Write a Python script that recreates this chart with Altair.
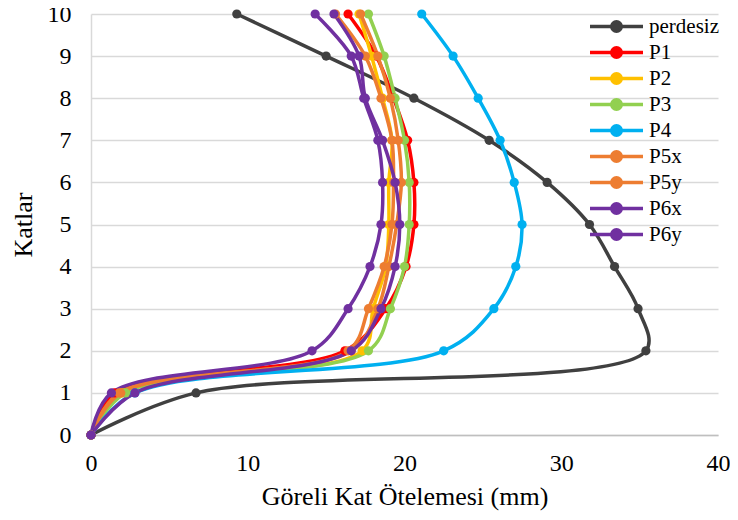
import altair as alt
import pandas as pd

floors = list(range(11))
names = ["perdesiz", "P1", "P2", "P3", "P4", "P5x", "P5y", "P6x", "P6y"]
colors = ["#404040", "#FF0000", "#FFC000", "#92D050", "#00B0F0",
          "#ED7D31", "#ED7D31", "#7030A0", "#7030A0"]

perdesiz = [0, 6.7, 35.4, 34.9, 33.4, 31.8, 29.1, 25.4, 20.6, 15.0, 9.3]
p1 = [0, 1.5, 16.2, 18.8, 20.1, 20.6, 20.6, 20.2, 19.3, 18.2, 16.4]
p2 = [0, 2.0, 17.3, 18.0, 18.8, 19.0, 19.0, 19.2, 18.6, 17.9, 17.1]
p3 = [0, 2.2, 17.7, 19.1, 20.0, 20.3, 20.3, 20.0, 19.4, 18.7, 17.7]
p4 = [0, 2.8, 22.5, 25.7, 27.1, 27.5, 27.0, 26.1, 24.7, 23.1, 21.1]
p5x = [0, 1.8, 16.4, 17.7, 18.7, 19.2, 19.3, 19.2, 18.5, 17.5, 15.6]
p5y = [0, 1.9, 16.6, 18.3, 19.0, 19.5, 19.8, 19.6, 19.1, 18.3, 17.2]
p6x = [0, 2.8, 16.6, 18.5, 19.4, 19.7, 19.4, 18.6, 17.5, 17.1, 15.5]
p6y = [0, 1.3, 14.1, 16.4, 17.8, 18.5, 18.6, 18.3, 17.4, 16.6, 14.3]

values = [perdesiz, p1, p2, p3, p4, p5x, p5y, p6x, p6y]
rows = []
for i, (n, vals) in enumerate(zip(names, values)):
    for f, v in zip(floors, vals):
        rows.append({"series": n, "floor": f, "drift": v, "idx": i})
df = pd.DataFrame(rows)

FONT = "Liberation Serif"
sym = "M-5.3,0H5.3M-0.95,0A0.95,0.95,0,1,1,0.95,0A0.95,0.95,0,1,1,-0.95,0Z"

x = alt.X("drift:Q", scale=alt.Scale(domain=[0, 40], nice=False),
          axis=alt.Axis(values=[0, 10, 20, 30, 40], grid=False, ticks=False,
                        labelFlush=False, labelFont=FONT, labelFontSize=24,
                        titleFont=FONT, titleFontSize=26,
                        title="Göreli Kat Ötelemesi (mm)", labelPadding=16,
                        titlePadding=8, domainColor="#bfbfbf", domainWidth=1.5))
y = alt.Y("floor:Q", scale=alt.Scale(domain=[0, 10], nice=False),
          axis=alt.Axis(values=floors, ticks=False, grid=True, gridColor="#d9d9d9",
                        labelFont=FONT, labelFontSize=24, labelFlush=False,
                        titleFont=FONT, titleFontSize=26,
                        gridWidth=1.5, title="Katlar", labelPadding=20, titlePadding=11,
                        domainColor="#d9d9d9", domainWidth=1.5))
color = alt.Color("series:N", scale=alt.Scale(domain=names, range=colors),
                  legend=alt.Legend(title=None, orient="none", legendX=515, legendY=2,
                                    symbolType=sym, symbolSize=100, symbolStrokeWidth=3.5,
                                    labelOffset=22, labelFontSize=21, labelFont=FONT,
                                    labelColor="black", padding=0, rowPadding=1))

line = alt.Chart(df).mark_line(interpolate="catmull-rom", strokeWidth=3.5).encode(
    x=x, y=y, color=color, order="floor:Q", detail="series:N")
points = alt.Chart(df).mark_point(filled=True, size=85, opacity=1).encode(
    x=x, y=y, color=color, order="idx:Q")

chart = alt.layer(line, points).properties(
    width=627, height=421,
    padding={"left": 83, "top": 6, "right": 12, "bottom": 77},
    autosize="none",
).configure_view(stroke=None).configure_axis(
    labelFont=FONT, labelFontSize=24, labelColor="black",
    titleFont=FONT, titleFontSize=26, titleFontWeight="normal", titleColor="black",
)

chart.save("out.html", embed_options={"renderer": "svg", "actions": False})
